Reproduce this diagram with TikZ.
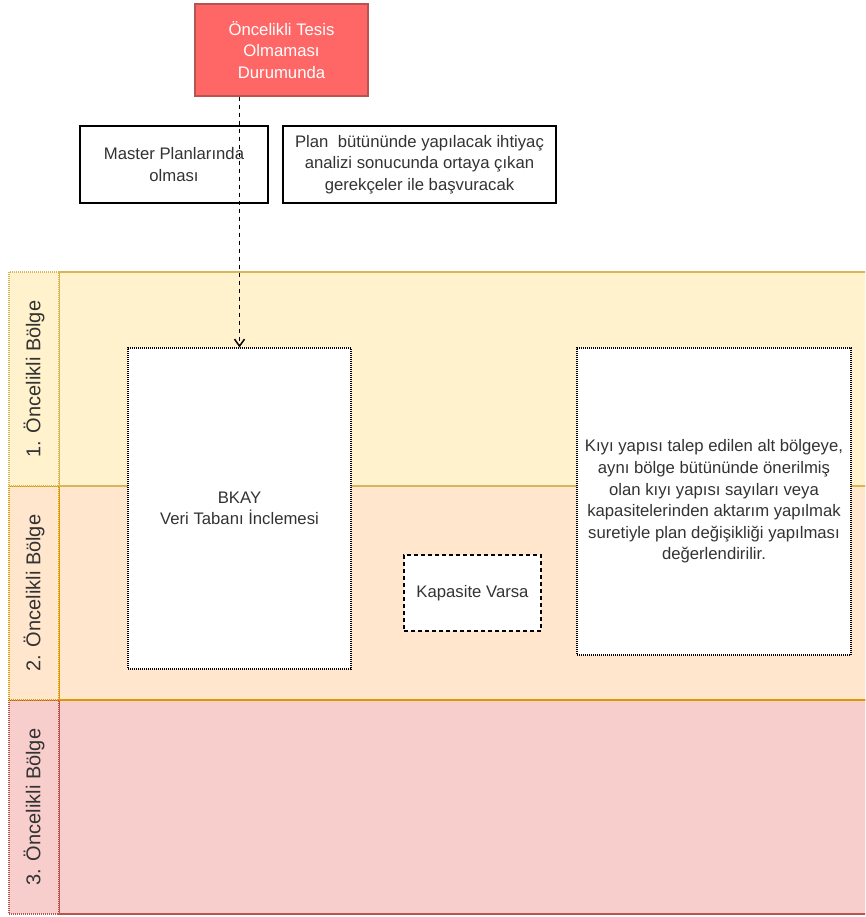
\documentclass[tikz,border=0pt]{standalone}
\usepackage{fontspec}
\setmainfont{Liberation Sans}
\usetikzlibrary{arrows.meta}
\definecolor{txtgray}{HTML}{333333}
\definecolor{redfill}{HTML}{FF6666}
\definecolor{redline}{HTML}{B85450}
\definecolor{yelfill}{HTML}{FFF2CC}
\definecolor{yelline}{HTML}{D6B656}
\definecolor{orafill}{HTML}{FFE6CC}
\definecolor{oraline}{HTML}{D79B00}
\definecolor{pinkfill}{HTML}{F8CECC}
\begin{document}
\begin{tikzpicture}[x=1pt,y=-1pt,
	box/.style={draw, fill=white, rectangle, align=center, text=txtgray,
		font=\fontsize{16.7}{21.6}\selectfont, inner sep=0pt, line width=1.3pt},
	dotbox/.style={box, draw=black, line width=1.2pt, dash pattern=on 1pt off 1pt},
	dashbox/.style={box, line width=1.3pt, dash pattern=on 4pt off 3pt},
	lanelabel/.style={box, line width=1.2pt, dash pattern=on 1pt off 1pt, rotate=90,
		font=\fontsize{20}{24}\selectfont, minimum width=214pt, minimum height=50pt}]
		\useasboundingbox (0,0) rectangle (865,917);
		\clip (0,0) rectangle (865,917);
		% lanes
		\draw[line width=1.4pt, draw=redline, fill=pinkfill] (59,700) rectangle (880,914);
		\draw[line width=1.4pt, draw=oraline, fill=orafill] (59,486) rectangle (880,700);
		\draw[line width=1.4pt, draw=yelline, fill=yelfill] (59,272) rectangle (880,486);
		\node[lanelabel, draw=redline, fill=pinkfill] (lane3) at (34,807) {3. Öncelikli Bölge};
		\node[lanelabel, draw=oraline, fill=orafill] (lane2) at (34,593) {2. Öncelikli Bölge};
		\node[lanelabel, draw=yelline, fill=yelfill] (lane1) at (34,379) {1. Öncelikli Bölge};
		% top boxes
		\node[box, draw=redline, fill=redfill, text=white, minimum width=173pt, minimum height=92pt]
			(durum) at (281.5,50) {Öncelikli Tesis\\Olmaması\\Durumunda};
		\node[box, draw=black, minimum width=188pt, minimum height=77pt]
			(master) at (174,164.5) {Master Planlarında\\olması};
		\node[box, draw=black, minimum width=273pt, minimum height=77pt]
			(plan) at (419.5,164.5) {Plan\ \ bütününde yapılacak ihtiyaç\\analizi sonucunda ortaya çıkan\\gerekçeler ile başvuracak};
		% boxes in lanes
		\node[dotbox, minimum width=223pt, minimum height=321pt]
			(bkay) at (239.5,508.5) {BKAY\\Veri Tabanı İnclemesi};
		\node[dashbox, minimum width=137pt, minimum height=76pt]
			(kapasite) at (472.5,593) {Kapasite Varsa};
		\node[dotbox, minimum width=274pt, minimum height=307pt]
			(kiyi) at (714,501.5) {Kıyı yapısı talep edilen alt bölgeye,\\aynı bölge bütününde önerilmiş\\olan kıyı yapısı sayıları veya\\kapasitelerinden aktarım yapılmak\\suretiyle plan değişikliği yapılması\\değerlendirilir.};
		% arrow
		\draw[line width=1.5pt, dash pattern=on 4pt off 4pt, -{Straight Barb[length=7pt,width=10pt]}]
			(durum.south -| bkay.north) -- (bkay.north);
	\end{tikzpicture}
\end{document}
